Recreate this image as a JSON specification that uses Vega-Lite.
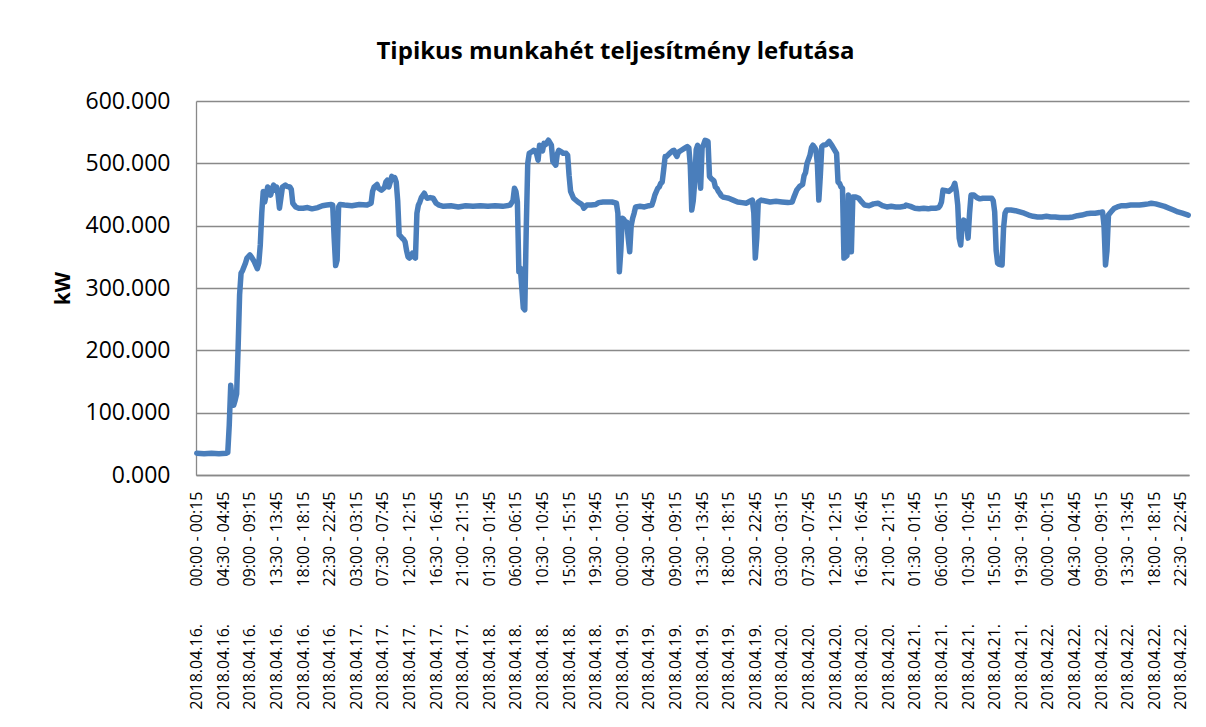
{
  "$schema": "https://vega.github.io/schema/vega-lite/v6.json",
  "width": 993,
  "height": 374,
  "autosize": {"type": "none"},
  "padding": {"left": 196, "top": 101, "right": 17, "bottom": 252},
  "background": "white",
  "title": {
    "text": "Tipikus munkahét teljesítmény lefutása",
    "anchor": "middle",
    "frame": "group",
    "dx": -77,
    "offset": 26,
    "font": "Open Sans",
    "fontSize": 24,
    "fontWeight": "bold",
    "color": "#000000"
  },
  "config": {
    "view": {"stroke": null},
    "font": "Open Sans"
  },
  "data": {
    "values": [
      {"i":0,"kw":35},{"i":5,"kw":34},{"i":10,"kw":35},{"i":15,"kw":34},{"i":20,"kw":35},{"i":21,"kw":36},{"i":22,"kw":80},{"i":23,"kw":144},{"i":24,"kw":120},{"i":25,"kw":112},{"i":26,"kw":120},{"i":27,"kw":130},{"i":28,"kw":204},{"i":29,"kw":289},{"i":30,"kw":324},{"i":31,"kw":328},{"i":32,"kw":334},{"i":33,"kw":340},{"i":34,"kw":348},{"i":36,"kw":353},{"i":37,"kw":350},{"i":39,"kw":342},{"i":41,"kw":331},{"i":42,"kw":340},{"i":43,"kw":369},{"i":44,"kw":420},{"i":45,"kw":455},{"i":46,"kw":438},{"i":47,"kw":450},{"i":48,"kw":462},{"i":49,"kw":460},{"i":50,"kw":449},{"i":51,"kw":458},{"i":52,"kw":465},{"i":53,"kw":457},{"i":54,"kw":462},{"i":55,"kw":450},{"i":56,"kw":428},{"i":57,"kw":445},{"i":58,"kw":462},{"i":60,"kw":465},{"i":61,"kw":463},{"i":63,"kw":462},{"i":64,"kw":458},{"i":65,"kw":436},{"i":67,"kw":430},{"i":69,"kw":428},{"i":72,"kw":428},{"i":75,"kw":429},{"i":78,"kw":427},{"i":82,"kw":429},{"i":85,"kw":432},{"i":88,"kw":433},{"i":91,"kw":434},{"i":92,"kw":433},{"i":93,"kw":380},{"i":94,"kw":336},{"i":95,"kw":345},{"i":96,"kw":430},{"i":97,"kw":434},
      {"i":100,"kw":433},{"i":105,"kw":432},{"i":110,"kw":434},{"i":115,"kw":433},{"i":118,"kw":436},{"i":119,"kw":455},{"i":120,"kw":462},{"i":122,"kw":466},{"i":123,"kw":460},{"i":125,"kw":457},{"i":127,"kw":461},{"i":128,"kw":470},{"i":129,"kw":473},{"i":130,"kw":462},{"i":131,"kw":470},{"i":132,"kw":479},{"i":133,"kw":475},{"i":134,"kw":477},{"i":135,"kw":470},{"i":136,"kw":440},{"i":137,"kw":385},{"i":138,"kw":383},{"i":139,"kw":380},{"i":140,"kw":378},{"i":141,"kw":374},{"i":142,"kw":360},{"i":143,"kw":350},{"i":144,"kw":348},{"i":145,"kw":352},{"i":146,"kw":356},{"i":147,"kw":350},{"i":148,"kw":348},{"i":149,"kw":420},{"i":150,"kw":433},{"i":151,"kw":438},{"i":152,"kw":445},{"i":154,"kw":452},{"i":155,"kw":447},{"i":156,"kw":444},{"i":158,"kw":445},{"i":160,"kw":444},{"i":161,"kw":440},{"i":162,"kw":436},{"i":164,"kw":433},{"i":167,"kw":431},{"i":172,"kw":432},{"i":177,"kw":430},{"i":182,"kw":432},{"i":187,"kw":431},{"i":192,"kw":432},
      {"i":197,"kw":431},{"i":202,"kw":432},{"i":207,"kw":431},{"i":212,"kw":433},{"i":214,"kw":440},{"i":215,"kw":460},{"i":216,"kw":455},{"i":217,"kw":438},{"i":218,"kw":326},{"i":219,"kw":332},{"i":220,"kw":300},{"i":221,"kw":268},{"i":222,"kw":265},{"i":223,"kw":396},{"i":224,"kw":500},{"i":225,"kw":516},{"i":227,"kw":519},{"i":228,"kw":521},{"i":229,"kw":520},{"i":230,"kw":515},{"i":231,"kw":505},{"i":232,"kw":529},{"i":233,"kw":524},{"i":234,"kw":520},{"i":235,"kw":532},{"i":236,"kw":530},{"i":238,"kw":537},{"i":239,"kw":533},{"i":240,"kw":529},{"i":241,"kw":503},{"i":243,"kw":497},{"i":244,"kw":515},{"i":245,"kw":521},{"i":247,"kw":518},{"i":248,"kw":516},{"i":250,"kw":516},{"i":251,"kw":513},{"i":252,"kw":480},{"i":253,"kw":455},{"i":255,"kw":444},{"i":257,"kw":440},{"i":258,"kw":438},{"i":260,"kw":435},{"i":261,"kw":433},{"i":262,"kw":428},{"i":264,"kw":433},{"i":267,"kw":433},{"i":270,"kw":434},{"i":272,"kw":437},{"i":275,"kw":438},{"i":278,"kw":438},{"i":281,"kw":438},{"i":284,"kw":436},{"i":285,"kw":420},{"i":286,"kw":326},{"i":287,"kw":360},
      {"i":288,"kw":412},{"i":289,"kw":410},{"i":290,"kw":406},{"i":291,"kw":406},{"i":292,"kw":380},{"i":293,"kw":358},{"i":294,"kw":400},{"i":295,"kw":412},{"i":296,"kw":420},{"i":297,"kw":430},{"i":300,"kw":431},{"i":303,"kw":430},{"i":306,"kw":432},{"i":308,"kw":433},{"i":309,"kw":440},{"i":310,"kw":449},{"i":312,"kw":460},{"i":313,"kw":462},{"i":314,"kw":468},{"i":315,"kw":470},{"i":316,"kw":490},{"i":317,"kw":511},{"i":318,"kw":511},{"i":320,"kw":516},{"i":322,"kw":520},{"i":323,"kw":521},{"i":324,"kw":515},{"i":325,"kw":511},{"i":326,"kw":518},{"i":328,"kw":521},{"i":330,"kw":524},{"i":332,"kw":527},{"i":333,"kw":525},{"i":334,"kw":497},{"i":335,"kw":425},{"i":336,"kw":440},{"i":337,"kw":470},{"i":338,"kw":522},{"i":339,"kw":529},{"i":340,"kw":500},{"i":341,"kw":460},{"i":342,"kw":525},{"i":343,"kw":530},{"i":344,"kw":537},{"i":345,"kw":536},{"i":346,"kw":535},{"i":347,"kw":479},{"i":348,"kw":476},{"i":350,"kw":472},{"i":351,"kw":462},{"i":352,"kw":460},{"i":353,"kw":455},{"i":354,"kw":452},{"i":355,"kw":448},{"i":356,"kw":446},{"i":358,"kw":445},{"i":360,"kw":444},{"i":363,"kw":441},{"i":366,"kw":438},{"i":369,"kw":437},{"i":372,"kw":436},{"i":375,"kw":440},{"i":376,"kw":441},{"i":377,"kw":420},{"i":378,"kw":348},{"i":379,"kw":380},{"i":380,"kw":438},{"i":382,"kw":441},{"i":384,"kw":440},
      {"i":388,"kw":438},{"i":392,"kw":439},{"i":396,"kw":438},{"i":400,"kw":437},{"i":403,"kw":438},{"i":404,"kw":445},{"i":406,"kw":457},{"i":408,"kw":463},{"i":410,"kw":466},{"i":411,"kw":480},{"i":412,"kw":485},{"i":413,"kw":500},{"i":415,"kw":513},{"i":416,"kw":525},{"i":417,"kw":529},{"i":418,"kw":526},{"i":419,"kw":522},{"i":420,"kw":500},{"i":421,"kw":441},{"i":422,"kw":480},{"i":423,"kw":527},{"i":424,"kw":529},{"i":426,"kw":530},{"i":428,"kw":535},{"i":430,"kw":528},{"i":431,"kw":524},{"i":432,"kw":520},{"i":433,"kw":516},{"i":434,"kw":470},{"i":435,"kw":468},{"i":436,"kw":462},{"i":437,"kw":460},{"i":438,"kw":348},{"i":439,"kw":350},{"i":440,"kw":352},{"i":441,"kw":449},{"i":442,"kw":420},{"i":443,"kw":358},{"i":444,"kw":446},{"i":446,"kw":446},{"i":448,"kw":444},{"i":450,"kw":438},{"i":452,"kw":433},{"i":455,"kw":432},{"i":458,"kw":435},{"i":461,"kw":436},{"i":464,"kw":432},{"i":467,"kw":430},{"i":470,"kw":431},{"i":473,"kw":430},{"i":476,"kw":430},{"i":479,"kw":431},
      {"i":480,"kw":433},{"i":483,"kw":431},{"i":486,"kw":428},{"i":489,"kw":427},{"i":492,"kw":428},{"i":495,"kw":427},{"i":497,"kw":428},{"i":500,"kw":428},{"i":502,"kw":429},{"i":503,"kw":432},{"i":504,"kw":438},{"i":505,"kw":457},{"i":507,"kw":456},{"i":509,"kw":455},{"i":511,"kw":459},{"i":512,"kw":462},{"i":513,"kw":468},{"i":514,"kw":455},{"i":515,"kw":433},{"i":516,"kw":380},{"i":517,"kw":369},{"i":518,"kw":400},{"i":519,"kw":409},{"i":520,"kw":407},{"i":521,"kw":406},{"i":522,"kw":380},{"i":523,"kw":420},{"i":524,"kw":449},{"i":526,"kw":449},{"i":528,"kw":445},{"i":530,"kw":443},{"i":532,"kw":444},{"i":535,"kw":444},{"i":538,"kw":444},{"i":539,"kw":440},{"i":540,"kw":422},{"i":541,"kw":360},{"i":542,"kw":340},{"i":543,"kw":338},{"i":545,"kw":337},{"i":546,"kw":396},{"i":547,"kw":420},{"i":548,"kw":425},{"i":551,"kw":425},{"i":554,"kw":424},{"i":557,"kw":422},{"i":560,"kw":420},{"i":563,"kw":417},{"i":566,"kw":415},{"i":569,"kw":414},{"i":572,"kw":414},{"i":575,"kw":415},
      {"i":578,"kw":414},{"i":581,"kw":414},{"i":584,"kw":413},{"i":587,"kw":413},{"i":590,"kw":413},{"i":593,"kw":414},{"i":596,"kw":416},{"i":599,"kw":417},{"i":602,"kw":419},{"i":605,"kw":420},{"i":608,"kw":420},{"i":611,"kw":421},{"i":613,"kw":422},{"i":614,"kw":400},{"i":615,"kw":337},{"i":616,"kw":360},{"i":617,"kw":417},{"i":619,"kw":423},{"i":621,"kw":428},{"i":623,"kw":430},{"i":626,"kw":432},{"i":629,"kw":432},{"i":632,"kw":433},{"i":635,"kw":433},{"i":638,"kw":433},{"i":641,"kw":434},{"i":644,"kw":435},{"i":646,"kw":436},{"i":649,"kw":435},{"i":652,"kw":433},{"i":655,"kw":431},{"i":658,"kw":428},{"i":661,"kw":425},{"i":664,"kw":422},{"i":667,"kw":420},{"i":671,"kw":417}
    ]
  },
  "mark": {
    "type": "line",
    "color": "#4A7EBB",
    "strokeWidth": 5.5,
    "strokeCap": "round",
    "strokeJoin": "round"
  },
  "encoding": {
    "x": {
      "field": "i",
      "type": "quantitative",
      "scale": {"domain": [-0.5, 671.5], "nice": false, "zero": false},
      "axis": {
        "title": null,
        "values": [0,18,36,54,72,90,108,126,144,162,180,198,216,234,252,270,288,306,324,342,360,378,396,414,432,450,468,486,504,522,540,558,576,594,612,630,648,666],
        "labelExpr": "'2018.04.' + (16 + floor(datum.value / 96)) + '.\u00a0\u00a0\u00a0\u00a0\u00a0\u00a0\u00a0\u00a0\u00a0' + (floor((datum.value % 96) / 4) < 10 ? '0' : '') + floor((datum.value % 96) / 4) + ':' + ((datum.value % 4) == 0 ? '0' : '') + ((datum.value % 4) * 15) + ' - ' + (floor(((datum.value % 96) + 1) / 4) % 24 < 10 ? '0' : '') + (floor(((datum.value % 96) + 1) / 4) % 24) + ':' + (((datum.value + 1) % 4) == 0 ? '0' : '') + (((datum.value + 1) % 4) * 15)",
        "labelAngle": -90,
        "labelAlign": "right",
        "labelBaseline": "middle",
        "labelPadding": 16,
        "labelFont": "Open Sans",
        "labelFontSize": 16,
        "labelLimit": 0,
        "labelColor": "#000000",
        "labelOverlap": false,
        "labelBound": false,
        "labelFlush": false,
        "ticks": false,
        "grid": false,
        "domain": true,
        "domainColor": "#898989",
        "domainWidth": 1.3
      }
    },
    "y": {
      "field": "kw",
      "type": "quantitative",
      "scale": {"domain": [0, 600], "nice": false},
      "axis": {
        "title": "kW",
        "titleFont": "Open Sans",
        "titleFontSize": 21,
        "titleFontWeight": "bold",
        "titleColor": "#000000",
        "titlePadding": 12,
        "values": [0,100,200,300,400,500,600],
        "format": ".3f",
        "labelFont": "Open Sans",
        "labelFontSize": 23,
        "labelColor": "#000000",
        "labelPadding": 26,
        "ticks": false,
        "grid": true,
        "gridColor": "#898989",
        "gridWidth": 1.3,
        "domain": true,
        "domainColor": "#898989",
        "domainWidth": 1.3
      }
    }
  }
}
